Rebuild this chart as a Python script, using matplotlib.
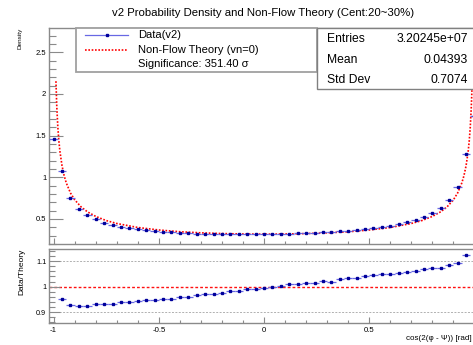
import numpy as np
import matplotlib
matplotlib.use("Agg")
from matplotlib import pyplot as plt
from matplotlib.ticker import MultipleLocator, FuncFormatter
from matplotlib.patches import Rectangle
from matplotlib.lines import Line2D

plt.rcParams['font.family'] = ['Liberation Sans', 'DejaVu Sans']

# histogram bins (width 0.04), centres -1.00 ... 1.00
bin_centers = np.round(np.arange(-1.0, 1.0001, 0.04), 2)
density = [1.46, 1.080, 0.754, 0.620, 0.543, 0.495, 0.457, 0.428, 0.408, 0.390,
           0.376, 0.363, 0.354, 0.346, 0.338, 0.334, 0.328, 0.325, 0.322, 0.318,
           0.317, 0.317, 0.315, 0.316, 0.315, 0.317, 0.318, 0.320, 0.323, 0.326,
           0.329, 0.332, 0.339, 0.342, 0.351, 0.359, 0.367, 0.378, 0.389, 0.403,
           0.418, 0.437, 0.459, 0.488, 0.523, 0.569, 0.630, 0.726, 0.886, 1.279,
           1.73]

# data / theory for the inner bins (-0.96 ... 0.96)
ratio = [0.950, 0.929, 0.926, 0.926, 0.933, 0.933, 0.934, 0.939, 0.941, 0.945,
         0.946, 0.949, 0.953, 0.953, 0.961, 0.961, 0.967, 0.970, 0.971, 0.976,
         0.983, 0.983, 0.989, 0.989, 0.996, 0.999, 1.003, 1.009, 1.011, 1.014,
         1.014, 1.022, 1.018, 1.030, 1.033, 1.034, 1.043, 1.045, 1.049, 1.050,
         1.054, 1.058, 1.063, 1.067, 1.072, 1.074, 1.083, 1.091, 1.125]

# non-flow theory curve
theory_x = [-0.989, -0.985, -0.98, -0.975, -0.97, -0.96, -0.95, -0.94, -0.92, -0.90,
            -0.87, -0.84, -0.80, -0.75, -0.70, -0.60, -0.50, -0.40, -0.30, -0.20,
            -0.10, 0.0, 0.10, 0.20, 0.30, 0.40, 0.50, 0.60, 0.70, 0.75,
            0.80, 0.84, 0.87, 0.90, 0.92, 0.94, 0.95, 0.96, 0.97, 0.975,
            0.98, 0.985, 0.988]
theory_y = [2.152, 1.845, 1.600, 1.433, 1.309, 1.137, 1.019, 0.933, 0.812, 0.730,
            0.646, 0.587, 0.531, 0.481, 0.446, 0.398, 0.368, 0.347, 0.334, 0.325,
            0.320, 0.318, 0.320, 0.325, 0.334, 0.347, 0.368, 0.398, 0.446, 0.481,
            0.531, 0.587, 0.646, 0.730, 0.812, 0.933, 1.019, 1.137, 1.309, 1.433,
            1.600, 1.845, 2.061]

stats_labels = ["Entries", "Mean", "Std Dev"]
stats_values = ["3.20245e+07", "0.04393", "0.7074"]

W, H = 473, 345
fx = lambda px: px / W
fy = lambda py: 1 - py / H

fig = plt.figure(figsize=(W / 100, H / 100), dpi=100)
ax1 = fig.add_axes([fx(49), fy(244), (473 - 49) / W, (244 - 28) / H])
ax2 = fig.add_axes([fx(49), fy(323), (473 - 49) / W, (323 - 249) / H])
XLIM = (-1.022, 0.993)

frame_col = '#8a8a8a'
marker_col = '#00009a'
err_col = '#6868e4'
fmt = FuncFormatter(lambda v, p: '%g' % round(v, 3))

# top panel
ax1.plot(theory_x, theory_y, color='red', ls=(0, (1, 1)), lw=1.2, zorder=2)
ax1.errorbar(bin_centers, density, xerr=0.02, fmt='s', ms=1.9, mfc=marker_col,
             mec=marker_col, ecolor=err_col, elinewidth=0.9, capsize=0, zorder=3)
ax1.set_xlim(*XLIM)
ax1.set_ylim(0.2, 2.79)

# ratio panel
ax2.axhline(1.0, color='#ff1010', ls=(0, (2, 1.5)), lw=1.0, zorder=1)
for lv in (0.9, 1.1):
    ax2.axhline(lv, color='#b0b0b0', ls=(0, (2, 1.5)), lw=0.7, zorder=1)
ax2.errorbar(bin_centers[1:-1], ratio, xerr=0.02, fmt='s', ms=1.9, mfc=marker_col,
             mec=marker_col, ecolor=err_col, elinewidth=0.9, capsize=0, zorder=3)
ax2.set_xlim(*XLIM)
ax2.set_ylim(0.858, 1.147)

for ax in (ax1, ax2):
    for s in ax.spines.values():
        s.set_color(frame_col)
        s.set_linewidth(1.0)
    ax.spines['right'].set_visible(False)
    ax.xaxis.set_major_locator(MultipleLocator(0.5))
    ax.xaxis.set_minor_locator(MultipleLocator(0.1))
    ax.xaxis.set_major_formatter(fmt)
    ax.yaxis.set_major_formatter(fmt)
    ax.tick_params(which='both', direction='in', color=frame_col, width=0.8,
                   top=False, right=False)

ax1.yaxis.set_major_locator(MultipleLocator(0.5))
ax1.yaxis.set_minor_locator(MultipleLocator(0.1))
ax1.tick_params(axis='y', which='major', length=10, labelsize=5.5, pad=2)
ax1.tick_params(axis='y', which='minor', length=5)
ax1.tick_params(axis='x', which='major', length=4.3, labelbottom=False)
ax1.tick_params(axis='x', which='minor', length=2.5)

ax2.yaxis.set_major_locator(MultipleLocator(0.1))
ax2.yaxis.set_minor_locator(MultipleLocator(0.02))
ax2.tick_params(axis='y', which='major', length=7.7, labelsize=5.2, pad=2)
ax2.tick_params(axis='y', which='minor', length=4)
ax2.tick_params(axis='x', which='major', length=4.3, labelsize=5.6, pad=3)
ax2.tick_params(axis='x', which='minor', length=2.2)

# titles / axis labels
fig.text(fx(263), fy(13), "v2 Probability Density and Non-Flow Theory (Cent:20~30%)",
         ha='center', va='center', fontsize=8.2)
fig.text(fx(20), fy(28), "Density", rotation=90, ha='center', va='top', fontsize=4.6)
fig.text(fx(22), fy(249), "Data/Theory", rotation=90, ha='center', va='top', fontsize=6)
fig.text(fx(472), fy(339), "cos(2(φ - Ψ)) [rad]", ha='right', va='center', fontsize=5.8)

# legend box
fig.patches.append(Rectangle((fx(76), fy(72)), (317 - 76) / W, (72 - 28) / H,
                             transform=fig.transFigure, fc='white', ec='#a0a0a0',
                             lw=1.3, zorder=5))
fig.lines.append(Line2D([fx(85), fx(128)], [fy(35), fy(35)], transform=fig.transFigure,
                        color=err_col, lw=0.9, zorder=6))
fig.lines.append(Line2D([fx(107)], [fy(35)], transform=fig.transFigure, marker='s',
                        ms=1.9, mfc=marker_col, mec=marker_col, zorder=7))
fig.lines.append(Line2D([fx(85), fx(128)], [fy(50), fy(50)], transform=fig.transFigure,
                        color='red', ls=(0, (1, 1)), lw=1.2, zorder=6))
leg_texts = ["Data(v2)", "Non-Flow Theory (vn=0)", "Significance: 351.40 σ"]
for t, py in zip(leg_texts, [35, 50, 64]):
    fig.text(fx(138), fy(py), t, ha='left', va='center', fontsize=8, zorder=7)

# stats box
fig.patches.append(Rectangle((fx(317), fy(89)), (480 - 317) / W, (89 - 28) / H,
                             transform=fig.transFigure, fc='white', ec='#808080',
                             lw=1.0, zorder=5))
for lab, val, py in zip(stats_labels, stats_values, [39, 60, 80]):
    fig.text(fx(327), fy(py), lab, ha='left', va='center', fontsize=8.7, zorder=7)
    fig.text(fx(468), fy(py), val, ha='right', va='center', fontsize=8.7, zorder=7)

fig.savefig("out.png", dpi=100)
